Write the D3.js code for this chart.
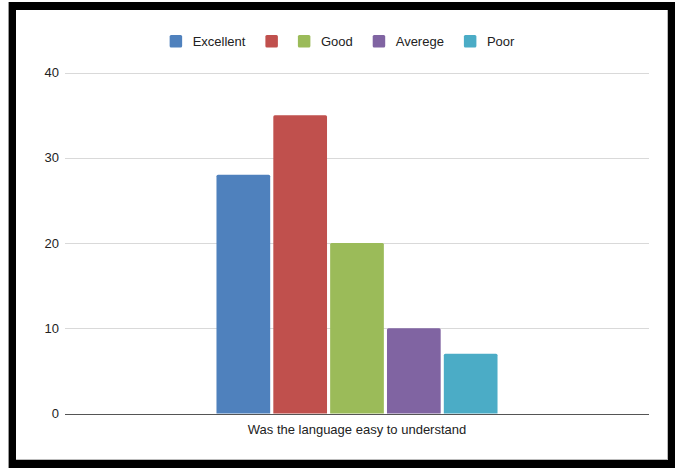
<html>
<head>
<meta charset="utf-8">
<style>
  body { margin: 0; background: #fff; }
  svg text { font-family: "Liberation Sans", Arial, sans-serif; fill: #222; }
</style>
</head>
<body>
<div id="chart"></div>
<script src="https://cdn.jsdelivr.net/npm/d3@7"></script>
<script>
(function(){
  "use strict";

  // data
  var category = "Was the language easy to understand";
  var seriesNames = ["Excellent", "", "Good", "Averege", "Poor"];
  var seriesValues = [28, 35, 20, 10, 7];
  var seriesColors = ["#4f81bd", "#c0504d", "#9bbb59", "#8064a2", "#4bacc6"];
  var yTicks = [0, 10, 20, 30, 40];

  var width = 675, height = 468;
  var plot = { left: 65, right: 649, top: 72.5, bottom: 413.5 };

  var svg = d3.select("#chart").append("svg")
    .attr("width", width)
    .attr("height", height);

  // black frame round the chart
  svg.append("rect").attr("x", 8).attr("y", 2)
    .attr("width", width - 8).attr("height", height - 2)
    .attr("fill", "#000");
  svg.append("line").attr("x1", 8.5).attr("x2", 8.5).attr("y1", 2).attr("y2", height)
    .attr("stroke", "#999");
  svg.append("rect").attr("x", 16).attr("y", 10)
    .attr("width", 652).attr("height", 450)
    .attr("fill", "#fff");
  svg.append("line").attr("x1", 667.5).attr("x2", 667.5).attr("y1", 10).attr("y2", 460)
    .attr("stroke", "#bbb");
  svg.append("line").attr("x1", 16).attr("x2", 668).attr("y1", 459.5).attr("y2", 459.5)
    .attr("stroke", "#bbb");

  var y = d3.scaleLinear().domain([0, 40]).range([plot.bottom, plot.top]);

  var x0 = d3.scaleBand().domain([category])
    .range([plot.left, plot.right]).paddingInner(0).paddingOuter(0.539);
  var x1 = d3.scaleBand().domain(d3.range(seriesValues.length))
    .range([0, x0.bandwidth()]).paddingInner(0.055);

  // grid lines
  svg.append("g").selectAll("line")
    .data(yTicks.filter(function(d){ return d > 0; }))
    .enter().append("line")
      .attr("x1", plot.left).attr("x2", plot.right)
      .attr("y1", function(d){ return Math.round(y(d)) + 0.5; })
      .attr("y2", function(d){ return Math.round(y(d)) + 0.5; })
      .attr("stroke", "#d9d9d9");

  // y tick labels
  svg.append("g").selectAll("text")
    .data(yTicks)
    .enter().append("text")
      .attr("x", 59)
      .attr("y", function(d){ return y(d); })
      .attr("dy", "0.35em")
      .attr("text-anchor", "end")
      .style("font-size", "13px")
      .text(function(d){ return d; });

  // bars
  var g = svg.append("g").attr("transform", "translate(" + x0(category) + ",0)");
  g.selectAll("path")
    .data(seriesValues)
    .enter().append("path")
      .attr("fill", function(d, i){ return seriesColors[i]; })
      .attr("d", function(d, i){
        var bx = x1(i), bw = x1.bandwidth(), top = y(d), bot = y(0), r = 1.5;
        return "M" + bx + "," + bot +
          "V" + (top + r) + "Q" + bx + "," + top + " " + (bx + r) + "," + top +
          "H" + (bx + bw - r) + "Q" + (bx + bw) + "," + top + " " + (bx + bw) + "," + (top + r) +
          "V" + bot + "Z";
      });

  // baseline
  svg.append("line")
    .attr("x1", plot.left).attr("x2", plot.right)
    .attr("y1", Math.round(y(0)) + 0.5).attr("y2", Math.round(y(0)) + 0.5)
    .attr("stroke", "#555").attr("stroke-width", 1.2);

  // category label
  svg.append("text")
    .attr("x", x0(category) + x0.bandwidth() / 2)
    .attr("y", 434)
    .attr("text-anchor", "middle")
    .style("font-size", "13px")
    .text(category);

  // legend, centred on the white area
  var legend = svg.append("g");
  var items = legend.selectAll("g")
    .data(seriesNames)
    .enter().append("g");
  items.append("rect")
    .attr("width", 12.5).attr("height", 12.5).attr("rx", 1.5)
    .attr("y", 35)
    .attr("fill", function(d, i){ return seriesColors[i]; });
  items.append("text")
    .attr("x", 23)
    .attr("y", 41.5)
    .attr("dy", "0.35em")
    .style("font-size", "13px")
    .text(function(d){ return d; });

  var pos = 0;
  items.each(function(d){
    var tw = d3.select(this).select("text").node().getComputedTextLength();
    d3.select(this).attr("transform", "translate(" + pos + ",0)");
    pos += (d ? 23 + tw : 12.5) + 20;
  });
  var total = pos - 20;
  legend.attr("transform", "translate(" + (342 - total / 2) + ",0)");
})();
</script>
</body>
</html>
